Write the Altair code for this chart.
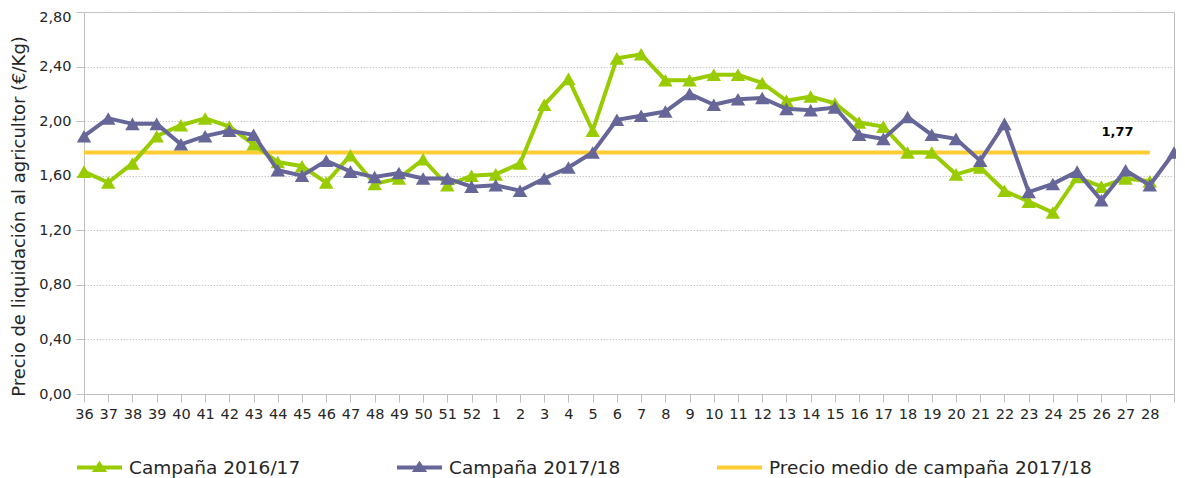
import altair as alt
import pandas as pd

# ---- data ----
weeks = ["36", "37", "38", "39", "40", "41", "42", "43", "44", "45", "46", "47", "48",
         "49", "50", "51", "52", "1", "2", "3", "4", "5", "6", "7", "8", "9", "10", "11",
         "12", "13", "14", "15", "16", "17", "18", "19", "20", "21", "22", "23", "24",
         "25", "26", "27", "28", " "]

series_names = ["Campaña 2016/17", "Campaña 2017/18", "Precio medio de campaña 2017/18"]

v_2016_17 = [1.63, 1.55, 1.69, 1.89, 1.97, 2.02, 1.96, 1.83, 1.70, 1.67, 1.55, 1.75, 1.54,
             1.58, 1.72, 1.53, 1.60,
             1.61, 1.69, 2.12, 2.31, 1.93, 2.46, 2.49, 2.30, 2.30, 2.34, 2.34, 2.28, 2.15,
             2.18, 2.13, 1.99, 1.96, 1.77, 1.77, 1.61, 1.66, 1.49, 1.41, 1.33, 1.59, 1.52,
             1.58, 1.56]

v_2017_18 = [1.89, 2.02, 1.98, 1.98, 1.83, 1.89, 1.93, 1.90, 1.64, 1.60, 1.71, 1.63, 1.59,
             1.62, 1.58, 1.58, 1.52,
             1.53, 1.49, 1.58, 1.66, 1.77, 2.01, 2.04, 2.07, 2.20, 2.12, 2.16, 2.17, 2.09,
             2.08, 2.10, 1.90, 1.87, 2.03, 1.90, 1.87, 1.71, 1.98, 1.48, 1.54, 1.63, 1.42,
             1.64, 1.53, 1.77]

mean_value = 1.77
mean_label = "1,77"
mean_weeks = ["36", "28"]
label_week = "27"

y_ticks = [0.0, 0.4, 0.8, 1.2, 1.6, 2.0, 2.4, 2.8]

colors = ["#99CC00", "#666699", "#FFCC33"]

# ---- tables ----
df_a = pd.DataFrame({"week": weeks[:len(v_2016_17)], "value": v_2016_17, "series": series_names[0]})
df_b = pd.DataFrame({"week": weeks[:len(v_2017_18)], "value": v_2017_18, "series": series_names[1]})
df_m = pd.DataFrame({"week": mean_weeks, "value": [mean_value] * len(mean_weeks), "series": series_names[2]})
df_lbl = pd.DataFrame({"week": [label_week], "value": [mean_value], "label": [mean_label]})
df_all = pd.concat([df_a, df_b, df_m], ignore_index=True)

FONT = "DejaVu Sans"

x_enc = alt.X("week:N", scale=alt.Scale(type="point", domain=weeks, padding=0),
              axis=alt.Axis(title=None, labelAngle=0, labelFont=FONT, labelFontSize=14.5,
                            labelColor="#262626", tickSize=8, tickColor="#BFBFBF",
                            domainColor="#BFBFBF", labelPadding=5, grid=False))
y_enc = alt.Y("value:Q", scale=alt.Scale(domain=[0, 2.8], nice=False, zero=True),
              axis=alt.Axis(values=y_ticks,
                            labelExpr="replace(format(datum.value, '.2f'), '.', ',')",
                            labelOffset={"condition": {"test": "datum.value > 2.7", "value": 5},
                                         "value": 0},
                            title="Precio de liquidación al agricultor (€/Kg)",
                            titleFont=FONT, titleFontSize=18, titleFontWeight="normal",
                            titleColor="#262626", titleAngle=270, titleX=-65, titleY=204,
                            titleAlign="center", titleBaseline="middle",
                            labelFont=FONT, labelFontSize=14.5, labelColor="#262626",
                            tickSize=8, tickColor="#BFBFBF", domainColor="#BFBFBF",
                            labelPadding=5, grid=True, gridColor="#C8C8C8",
                            gridDash=[1.5, 1.5], gridWidth=1))

mean_line = alt.Chart(df_m).mark_line(color=colors[2], strokeWidth=4).encode(x=x_enc, y=y_enc)
mean_text = alt.Chart(df_lbl).mark_text(font=FONT, fontSize=13, fontWeight="bold",
                                         color="#000000", dx=-8, dy=-21,
                                         baseline="middle").encode(
    x=x_enc, y=y_enc, text="label:N")

def series_layers(df, color):
    line = alt.Chart(df).mark_line(color=color, strokeWidth=4).encode(x=x_enc, y=y_enc)
    pts = alt.Chart(df).mark_point(shape="triangle-up", filled=True, size=210,
                                   color=color, opacity=1).encode(x=x_enc, y=y_enc)
    return [line, pts]

tri_line = "M-1,-0.09H1V0.09H-1Z M0,-0.3L0.34,0.2H-0.34Z"
plain_line = "M-1,-0.09H1V0.09H-1Z"

legend_def = alt.Legend(title=None, orient="none", legendX=-7, legendY=433,
                        direction="horizontal", columns=3, columnPadding=96,
                        labelFont=FONT, labelFontSize=18.5, labelColor="#262626",
                        labelOffset=7, symbolSize=2025, symbolStrokeWidth=0,
                        padding=0, labelLimit=0)

legend_layer = alt.Chart(df_all).mark_point(filled=True, opacity=1).encode(
    x=x_enc, y=y_enc,
    color=alt.Color("series:N", scale=alt.Scale(domain=series_names, range=colors),
                    legend=legend_def),
    shape=alt.Shape("series:N", scale=alt.Scale(domain=series_names,
                                                range=[tri_line, tri_line, plain_line]),
                    legend=legend_def),
).transform_filter("datum.value < 0")

layers = [mean_line] + series_layers(df_a, colors[0]) + series_layers(df_b, colors[1]) + [mean_text, legend_layer]

chart = alt.layer(*layers).properties(
    width=1090, height=382,
    padding={"left": 76, "top": 4, "right": 2, "bottom": 84},
    autosize=alt.AutoSizeParams(type="none"),
).configure_view(stroke="#BFBFBF", strokeWidth=1)

chart.save("out.html", embed_options={"renderer": "svg", "actions": False})
